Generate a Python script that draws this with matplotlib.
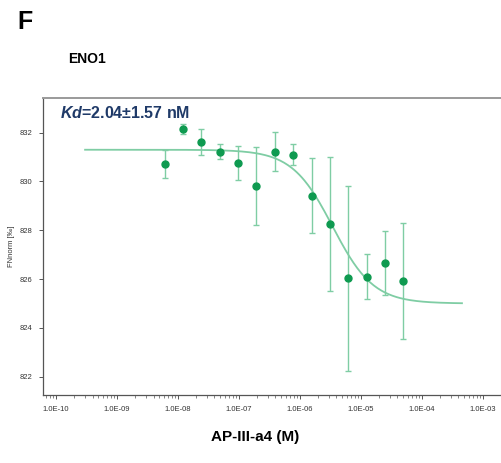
import matplotlib
matplotlib.use("Agg")
import matplotlib.pyplot as plt
import numpy as np
from matplotlib.ticker import LogLocator, FixedLocator, NullFormatter

plt.rcParams['font.family'] = ['Liberation Sans', 'DejaVu Sans']
plt.rcParams['mathtext.fontset'] = 'custom'
plt.rcParams['mathtext.bfit'] = 'Liberation Sans:italic:bold'

# 2-fold dilution series of AP-III-a4 (M)
conc = [6.1e-9, 1.22e-8, 2.44e-8, 4.88e-8, 9.77e-8, 1.95e-7, 3.91e-7,
        7.81e-7, 1.56e-6, 3.13e-6, 6.25e-6, 1.25e-5, 2.5e-5, 5.0e-5]
fnorm = [830.72, 832.15, 831.62, 831.22, 830.77, 829.82, 831.22,
         831.09, 829.42, 828.26, 826.03, 826.10, 826.65, 825.93]
fnorm_err = [0.56, 0.2, 0.52, 0.3, 0.7, 1.6, 0.8,
             0.43, 1.55, 2.75, 3.8, 0.93, 1.3, 2.38]

# dose-response fit parameters
fit_top = 831.3
fit_bottom = 825.0
fit_log_ec50 = -5.46
fit_hill = 1.3

point_color = '#0e9a50'
fit_color = '#7fcda4'

fig = plt.figure(figsize=(5.02, 4.63), dpi=100)
ax = fig.add_axes([43 / 502, 68 / 463, 458 / 502, 297 / 463])

xs = np.logspace(-9.52, -3.34, 300)
ys = fit_bottom + (fit_top - fit_bottom) / (1 + 10 ** ((np.log10(xs) - fit_log_ec50) * fit_hill))
ax.plot(xs, ys, color=fit_color, lw=1.3, zorder=2)

ax.errorbar(conc, fnorm, yerr=fnorm_err, fmt='none', ecolor=fit_color,
            elinewidth=1.0, capsize=2.5, capthick=1.0, zorder=3)
ax.plot(conc, fnorm, 'o', color=point_color, ms=5, zorder=4)

ax.set_xscale('log')
ax.set_xlim(10 ** -10.21, 10 ** -2.70)
ax.set_ylim(821.25, 833.42)

decades = [10.0 ** e for e in range(-10, -2)]
ax.xaxis.set_major_locator(FixedLocator(decades))
ax.set_xticklabels(['1.0E-%02d' % -e for e in range(-10, -2)])
ax.xaxis.set_minor_locator(LogLocator(base=10, subs=np.arange(2, 10)))
ax.xaxis.set_minor_formatter(NullFormatter())
ax.set_yticks([822, 824, 826, 828, 830, 832])

ax.tick_params(axis='both', which='major', labelsize=5.5, colors='#555555',
               labelcolor='#333333', length=3, width=0.7, pad=5)
ax.tick_params(axis='x', which='minor', length=2, width=0.5, colors='#555555')

for side in ['left', 'bottom']:
    ax.spines[side].set_color('#555555')
    ax.spines[side].set_linewidth(0.9)
ax.spines['top'].set_color('#9a9a9a')
ax.spines['top'].set_linewidth(1.4)
ax.spines['right'].set_color('#e4e4e4')
ax.spines['right'].set_linewidth(0.8)

ax.set_ylabel('FNnorm [‰]', fontsize=5.5, color='#333333', labelpad=3)

fig.text(17 / 502, 1 - 22 / 463, 'F', fontsize=18, fontweight='bold', va='center', ha='left')
fig.text(68 / 502, 1 - 59 / 463, 'ENO1', fontsize=10, fontweight='bold', va='center', ha='left')
fig.text(60 / 502, 1 - 113 / 463, r'$\mathbfit{Kd}$' + '=2.04±1.57 nM', fontsize=11.5,
         fontweight='bold', color='#1f3a68', va='center', ha='left')
fig.text(255 / 502, 1 - 437 / 463, 'AP-III-a4 (M)', fontsize=11, fontweight='bold',
         va='center', ha='center')

fig.savefig('out.png', dpi=100)
